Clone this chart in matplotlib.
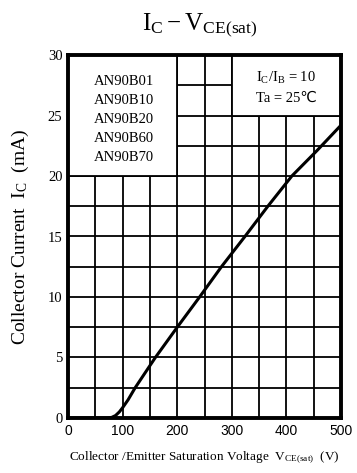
import matplotlib
matplotlib.use("Agg")
import matplotlib.pyplot as plt
from matplotlib.patches import Rectangle

plt.rcParams['font.family'] = ['Liberation Serif', 'DejaVu Serif']
plt.rcParams['mathtext.fontset'] = 'custom'
plt.rcParams['mathtext.rm'] = 'Liberation Serif'
plt.rcParams['mathtext.it'] = 'Liberation Serif'

# curve
vce = [0, 72, 80, 87, 94, 100, 110, 123, 140, 160, 200, 241, 281, 324, 366, 410, 456, 500]
ic = [0, 0, 0.05, 0.2, 0.5, 0.85, 1.5, 2.5, 3.65, 5.0, 7.5, 10.0, 12.5, 15.0, 17.5, 20.0, 22.1, 24.2]

x_ticks = [0, 100, 200, 300, 400, 500]
y_ticks = [0, 5, 10, 15, 20, 25, 30]
models = ['AN90B01', 'AN90B10', 'AN90B20', 'AN90B60', 'AN90B70']

fig = plt.figure(figsize=(3.57, 4.73), dpi=100)
ax = fig.add_axes([0.1905, 0.1163, 0.7647, 0.7674])

ax.set_xlim(0, 500)
ax.set_ylim(0, 30)

# grid every 50 V / 2.5 mA
for v in range(50, 500, 50):
    ax.axvline(v, color='black', lw=1.3, zorder=1)
for i in [2.5 * k for k in range(1, 12)]:
    ax.axhline(i, color='black', lw=1.3, zorder=1)

# white boxes hiding the grid behind the notes
ax.add_patch(Rectangle((0, 20), 200, 10, facecolor='white', edgecolor='black', lw=1.3, zorder=2))
ax.add_patch(Rectangle((300, 25), 200, 5, facecolor='white', edgecolor='black', lw=1.3, zorder=2))

ax.plot(vce, ic, color='black', lw=2.2, zorder=3, solid_joinstyle='round')

ax.text(102, 24.65, '\n'.join(models), ha='center', va='center', fontsize=10.5,
        linespacing=1.6, zorder=4)
ax.text(400, 27.3, '$\\mathrm{I_C/I_B}$ = 10\nTa = 25℃', ha='center', va='center',
        fontsize=10.5, linespacing=1.6, zorder=4, family=['Liberation Serif', 'DejaVu Sans'])

for s in ax.spines.values():
    s.set_linewidth(2.8)
    s.set_zorder(5)

ax.set_xticks(x_ticks)
ax.set_yticks(y_ticks)
ax.tick_params(length=0, pad=4)
for lab in ax.get_xticklabels():
    lab.set_fontfamily('Liberation Sans')
    lab.set_fontsize(10)
for lab in ax.get_yticklabels():
    lab.set_fontsize(10.5)

ax.set_ylabel('Collector Current  $\\mathrm{I_C}$  (mA)', fontsize=14, labelpad=12)
ax.set_xlabel('Collector /Emitter Saturation Voltage  $\\mathrm{V_{CE(sat)}}$  (V)', fontsize=9.5, labelpad=9)

fig.text(0.56, 0.947, '$\\mathrm{I_C - V_{CE(sat)}}$', ha='center', va='center', fontsize=18)

fig.savefig('out.png', dpi=100)
